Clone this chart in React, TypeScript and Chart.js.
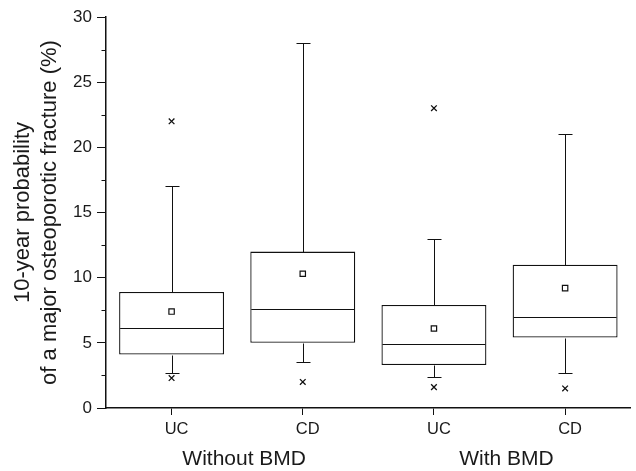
import React, { useEffect, useRef } from "react";
import { Chart, registerables } from "chart.js";

Chart.register(...registerables);

const categories = ["UC", "CD", "UC", "CD"];
const groupLabels = ["Without BMD", "With BMD"];
const q1 = [4.1, 5.0, 3.3, 5.4];
const q3 = [8.9, 12.0, 7.9, 11.0];
const medians = [6.1, 7.6, 4.9, 7.0];
const means = [7.4, 10.3, 6.1, 9.2];
const whiskerLow = [2.7, 3.5, 2.4, 2.7];
const whiskerHigh = [17, 28, 13, 21];
const outliersHigh = [22, null, 23, null];
const outliersLow = [2.3, 2.0, 1.6, 1.5];
const minorTicks = [2.5, 7.5, 12.5, 17.5, 22.5, 27.5];
const yTitle = ["10-year probability", "of a major osteoporotic fracture (%)"];

const INK = "#111111";
const TEXT = "#1a1a1a";
const FONT = "'Liberation Sans', Arial, Helvetica, sans-serif";

function py0(scale: any, v: number) {
  return Math.round(scale.getPixelForValue(v)) + 0.5;
}

const boxParts = {
  id: "boxParts",
  afterDatasetsDraw(chart: any) {
    const { ctx } = chart;
    const y = chart.scales.y;
    const meta = chart.getDatasetMeta(0);
    ctx.save();
    ctx.strokeStyle = INK;
    ctx.lineWidth = 1;
    const seg = (x1: number, y1: number, x2: number, y2: number) => {
      ctx.beginPath();
      ctx.moveTo(x1, y1);
      ctx.lineTo(x2, y2);
      ctx.stroke();
    };
    meta.data.forEach((bar: any, i: number) => {
      const { x, width } = bar.getProps(["x", "width"], true);
      const half = width / 2;
      const cx = Math.round(x) + 0.5;
      const py = (v: number) => py0(y, v);
      seg(x - half + 1, py(medians[i]), x + half - 1, py(medians[i]));
      seg(cx, py(q3[i]), cx, py(whiskerHigh[i]));
      seg(cx, py(q1[i]), cx, py(whiskerLow[i]));
      const cap = 7;
      seg(cx - cap, py(whiskerHigh[i]), cx + cap, py(whiskerHigh[i]));
      seg(cx - cap, py(whiskerLow[i]), cx + cap, py(whiskerLow[i]));
    });
    const left = chart.chartArea.left;
    minorTicks.forEach((v) => {
      const p = py0(y, v);
      seg(left - 4.5, p, left, p);
    });
    ctx.restore();
  },
};

export default function App() {
  const ref = useRef<HTMLCanvasElement | null>(null);

  useEffect(() => {
    if (!ref.current) return;
    const chart = new Chart(ref.current, {
      type: "bar",
      data: {
        labels: categories,
        datasets: [
          {
            type: "bar",
            data: q1.map((v, i) => [v, q3[i]]) as any,
            backgroundColor: "#ffffff",
            borderColor: INK,
            borderWidth: 1.3,
            borderSkipped: false,
            barPercentage: 0.8,
            categoryPercentage: 1.0,
            order: 2,
          },
          {
            type: "line",
            data: means,
            showLine: false,
            pointStyle: "rect",
            pointRadius: 3.8,
            pointBackgroundColor: "#ffffff",
            pointBorderColor: INK,
            pointBorderWidth: 1.2,
            order: 1,
          } as any,
          {
            type: "line",
            data: outliersHigh,
            showLine: false,
            pointStyle: "crossRot",
            pointRadius: 4,
            pointBorderColor: INK,
            pointBorderWidth: 1.3,
            order: 1,
          } as any,
          {
            type: "line",
            data: outliersLow,
            showLine: false,
            pointStyle: "crossRot",
            pointRadius: 4,
            pointBorderColor: INK,
            pointBorderWidth: 1.3,
            order: 1,
          } as any,
        ],
      },
      options: {
        responsive: false,
        animation: false,
        layout: { padding: { top: 17, right: 2, left: 0, bottom: 0 } },
        plugins: {
          legend: { display: false },
          tooltip: { enabled: false },
        },
        scales: {
          x: {
            type: "category",
            position: "bottom",
            offset: true,
            weight: 0,
            grid: {
              display: true,
              drawOnChartArea: false,
              offset: false,
              tickLength: 7,
              tickColor: INK,
              tickWidth: 1,
            },
            border: { display: true, color: INK, width: 1.5 },
            ticks: {
              color: TEXT,
              font: { family: FONT, size: 16.5 },
              padding: 5,
              labelOffset: 5,
              maxRotation: 0,
              autoSkip: false,
            },
            afterFit: (s: any) => {
              s.height = 35;
            },
          },
          x2: {
            type: "category",
            labels: groupLabels,
            position: "bottom",
            offset: true,
            weight: 1,
            grid: { display: false, drawTicks: false },
            border: { display: false },
            ticks: {
              color: TEXT,
              font: { family: FONT, size: 21 },
              padding: 4,
              labelOffset: 7,
              maxRotation: 0,
              autoSkip: false,
            },
            afterFit: (s: any) => {
              s.height = 28;
            },
          },
          y: {
            min: 0,
            max: 30,
            grid: {
              drawOnChartArea: false,
              tickLength: 9,
              tickColor: INK,
              tickWidth: 1,
            },
            border: { display: true, color: INK, width: 1.5 },
            ticks: {
              stepSize: 5,
              color: TEXT,
              font: { family: FONT, size: 17 },
              padding: 5,
            },
            title: {
              display: true,
              text: yTitle,
              color: TEXT,
              font: { family: FONT, size: 22, lineHeight: 1.2 },
              padding: { top: 10, bottom: 0 },
            },
            afterFit: (s: any) => {
              s.width = 106;
            },
          },
        },
      } as any,
      plugins: [boxParts],
    });
    return () => chart.destroy();
  }, []);

  return (
    <div style={{ position: "absolute", left: 0, top: 0, width: 636, height: 471, background: "#fff" }}>
      <canvas ref={ref} width={636} height={471} />
    </div>
  );
}
